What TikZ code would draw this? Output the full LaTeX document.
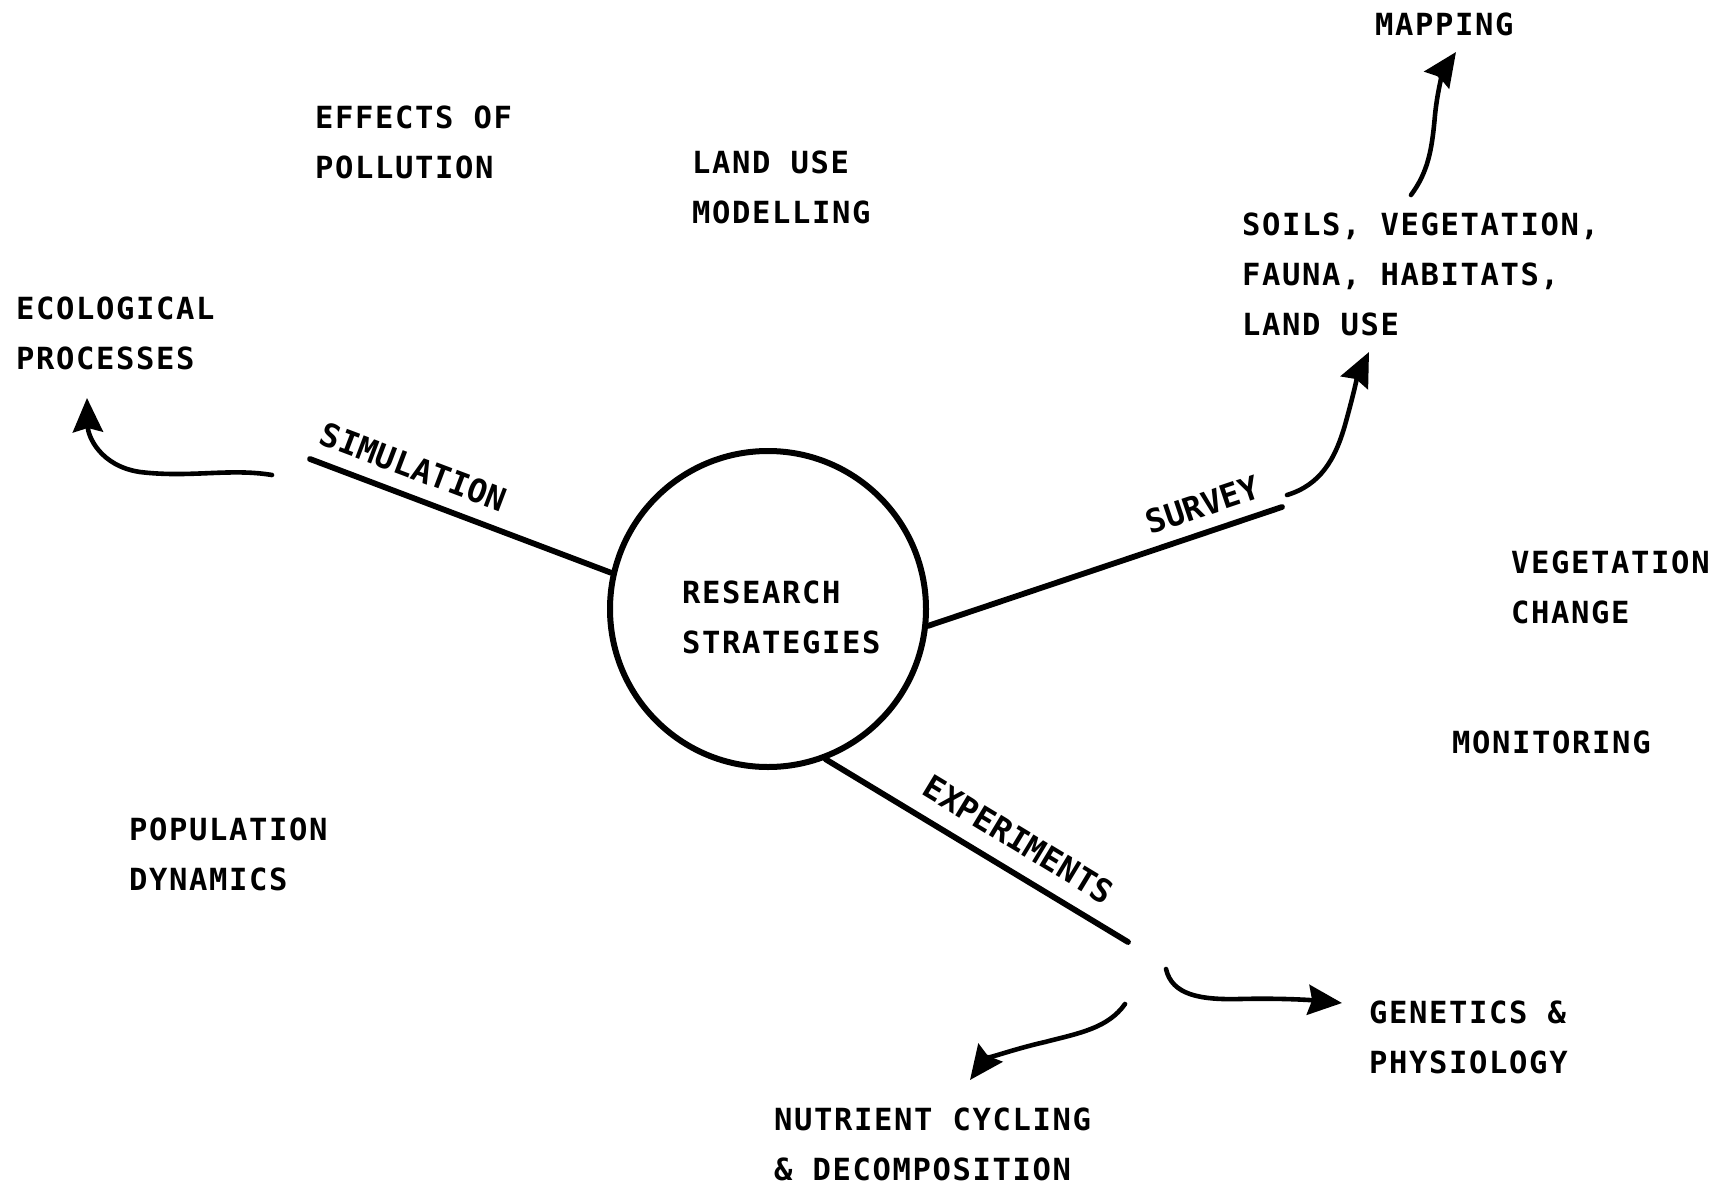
\documentclass[tikz,border=0pt]{standalone}
\usepackage{fontspec}
\newfontfamily\tw[LetterSpace=5.4]{DejaVu Sans Mono}
\newfontfamily\twplain{DejaVu Sans Mono}
\usetikzlibrary{arrows.meta}
\begin{document}
\begin{tikzpicture}[x=1pt,y=-1pt,
  txt/.style={inner sep=0pt, font=\tw\bfseries\fontsize{30.5}{50}\selectfont},
  lab/.style={txt, anchor=north west, yshift=22.5pt, align=left},
  onlab/.style={inner sep=0pt, font=\twplain\bfseries\fontsize{32.5}{50}\selectfont, sloped},
  mainline/.style={line width=5.8pt, line cap=round},
  curvearrow/.style={line width=4.6pt, line cap=round, -{Stealth[length=34pt,width=30pt,inset=4pt]}}]
\fill[white] (0,0) rectangle (1717,1186);
\useasboundingbox (0,0) rectangle (1717,1186);

% centre
\node[draw, circle, minimum size=316pt, line width=6pt, inner sep=0pt] (rs) at (768,609) {};
\node[lab] (rstext) at (682,603) {RESEARCH\\STRATEGIES};

% labels
\node[lab] (mapping) at (1375,35) {MAPPING};
\node[lab] (effects) at (315,128) {EFFECTS OF\\POLLUTION};
\node[lab] (landuse) at (692,173) {LAND USE\\MODELLING};
\node[lab] (soils) at (1242,235) {SOILS, VEGETATION,\\FAUNA, HABITATS,\\LAND USE};
\node[lab] (eco) at (16,319) {ECOLOGICAL\\PROCESSES};
\node[lab] (veg) at (1511,573) {VEGETATION\\CHANGE};
\node[lab] (mon) at (1452,753) {MONITORING};
\node[lab] (pop) at (129,840) {POPULATION\\DYNAMICS};
\node[lab] (gen) at (1369,1023) {GENETICS \&\\PHYSIOLOGY};
\node[lab] (nut) at (774,1130) {NUTRIENT CYCLING\\\& DECOMPOSITION};

% spokes
\coordinate (simEnd) at (310,459);
\coordinate (survEnd) at (1282,507);
\coordinate (expEnd) at (1128,942);
\draw[mainline] (simEnd) -- node[onlab, pos=0.31, above=14pt] (simlab) {SIMULATION} (rs.167.9);
\draw[mainline] (rs.-6.3) -- node[onlab, pos=0.80, above=12pt] (survlab) {SURVEY} (survEnd);
\draw[mainline] (rs.-69) -- node[onlab, pos=0.585, above=16pt] (explab) {EXPERIMENTS} (expEnd);

% curved arrows
\coordinate (a1s) at (272,475);
\coordinate (a1t) at (87,398);
\draw[curvearrow] (a1s) .. controls (230,468) and (190,478) .. (140,472)
  .. controls (100,466) and (88,436) .. (a1t);

\coordinate (a2s) at (1287,495);
\coordinate (a2t) at (1369,352);
\draw[curvearrow] (a2s) .. controls (1320,485) and (1335,460) .. (1345,425)
  .. controls (1352,400) and (1358,375) .. (a2t);

\coordinate (a3s) at (1411,195);
\coordinate (a3t) at (1456,52);
\draw[curvearrow] (a3s) .. controls (1428,172) and (1432,150) .. (1435,115)
  .. controls (1438,85) and (1445,68) .. (a3t);

\coordinate (a4s) at (1166,969);
\coordinate (a4t) at (1342,1003);
\draw[curvearrow] (a4s) .. controls (1172,995) and (1200,1000) .. (1240,999)
  .. controls (1280,998) and (1310,1000) .. (a4t);

\coordinate (a5s) at (1125,1004);
\coordinate (a5t) at (970,1080);
\draw[curvearrow] (a5s) .. controls (1108,1028) and (1080,1033) .. (1045,1042)
  .. controls (1010,1050) and (985,1060) .. (a5t);
\end{tikzpicture}
\end{document}
